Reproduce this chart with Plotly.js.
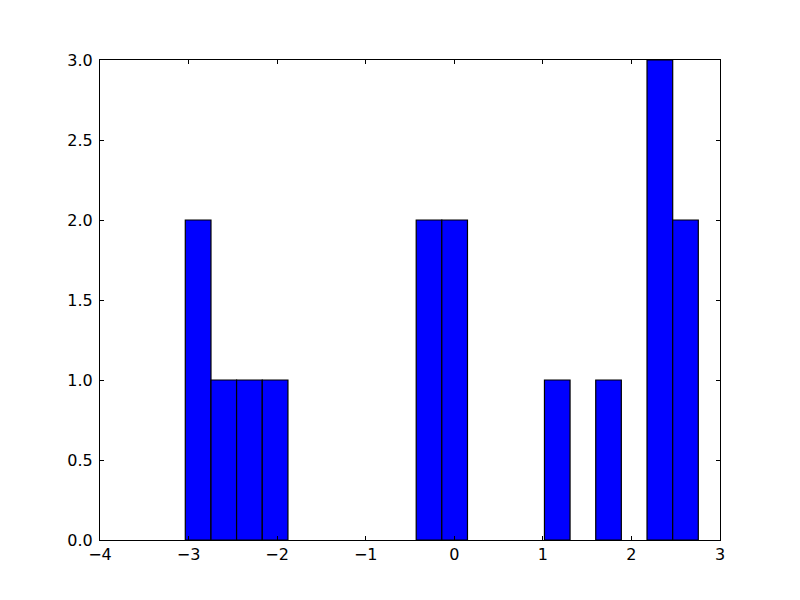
<!DOCTYPE html>
<html>
<head>
<meta charset="utf-8">
<script src="https://cdn.plot.ly/plotly-3.0.1.min.js"></script>
<style>html,body{margin:0;padding:0;background:#fff;}#chart{width:800px;height:600px;}</style>
</head>
<body>
<div id="chart"></div>
<script>
// Histogram bin edges (21 edges -> 20 bins) and counts
const binEdges = [-3.037, -2.747, -2.458, -2.168, -1.878, -1.589, -1.299, -1.010, -0.720, -0.430,
                  -0.141, 0.149, 0.438, 0.728, 1.018, 1.307, 1.597, 1.886, 2.176, 2.466, 2.755];
const counts = [2, 1, 1, 1, 0, 0, 0, 0, 0, 2, 2, 0, 0, 0, 1, 0, 1, 0, 3, 2];
const xTicks = [-4, -3, -2, -1, 0, 1, 2, 3];
const yTicks = [0.0, 0.5, 1.0, 1.5, 2.0, 2.5, 3.0];

const xs = [], ys = [], ws = [];
for (let i = 0; i < counts.length; i++) {
  if (counts[i] === 0) continue;
  xs.push((binEdges[i] + binEdges[i + 1]) / 2);
  ws.push(binEdges[i + 1] - binEdges[i]);
  ys.push(counts[i]);
}

const trace = {
  type: 'bar', x: xs, y: ys, width: ws,
  marker: {color: '#0000ff', line: {color: '#000000', width: 1.2}},
  hoverinfo: 'skip'
};

const axisCommon = {
  showline: true, linecolor: '#000', linewidth: 1, mirror: 'ticks',
  ticks: 'inside', ticklen: 4, tickwidth: 1, tickcolor: '#000',
  showgrid: false, zeroline: false,
  tickfont: {family: 'DejaVu Sans', size: 16, color: '#000'}
};

const layout = {
  width: 800, height: 600,
  margin: {l: 100, r: 80, t: 60, b: 60, pad: 0},
  paper_bgcolor: '#fff', plot_bgcolor: '#fff',
  showlegend: false, bargap: 0,
  xaxis: Object.assign({}, axisCommon, {range: [-4, 3], tickvals: xTicks, ticktext: xTicks.map(v => v < 0 ? '\u2212' + Math.abs(v) : String(v))}),
  yaxis: Object.assign({}, axisCommon, {range: [0, 3], tickvals: yTicks, ticklabelstandoff: 3, ticktext: yTicks.map(v => v.toFixed(1))})
};

Plotly.newPlot('chart', [trace], layout, {displayModeBar: false, staticPlot: true});
</script>
</body>
</html>
